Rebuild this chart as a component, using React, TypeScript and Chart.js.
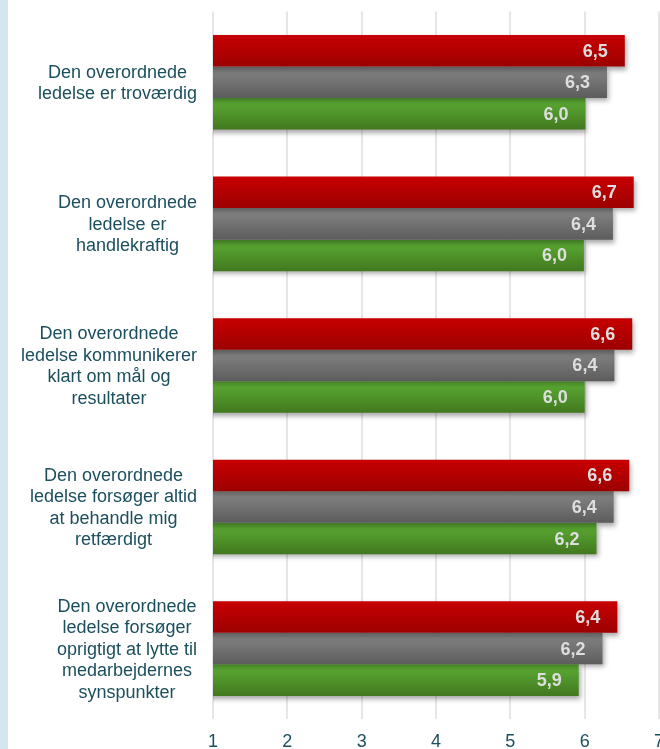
import React, { useEffect, useRef } from "react";
import { Chart, registerables } from "chart.js";

Chart.register(...registerables);

const categories: string[][] = [
  ["Den overordnede", "ledelse er troværdig"],
  ["Den overordnede", "ledelse er", "handlekraftig"],
  ["Den overordnede", "ledelse kommunikerer", "klart om mål og", "resultater"],
  ["Den overordnede", "ledelse forsøger altid", "at behandle mig", "retfærdigt"],
  ["Den overordnede", "ledelse forsøger", "oprigtigt at lytte til", "medarbejdernes", "synspunkter"],
];

const seriesA = [6.54, 6.66, 6.64, 6.6, 6.44];
const seriesB = [6.3, 6.38, 6.4, 6.39, 6.24];
const seriesC = [6.01, 5.99, 6.0, 6.16, 5.92];

const xTicks = [1, 2, 3, 4, 5, 6, 7];

const topColors = ["#c80000", "#878787", "#5cae34"];
const bottomColors = ["#9c0000", "#5c5c5c", "#42781f"];
const TEAL = "#1b4f5d";

const barStyle = {
  id: "barStyle",
  beforeDatasetsDraw(chart: any) {
    const ctx = chart.ctx;
    chart.data.datasets.forEach((_ds: any, i: number) => {
      const meta = chart.getDatasetMeta(i);
      meta.data.forEach((el: any) => {
        const top = el.y - el.height / 2;
        const bottom = el.y + el.height / 2;
        const g = ctx.createLinearGradient(0, top, 0, bottom);
        g.addColorStop(0, topColors[i]);
        g.addColorStop(1, bottomColors[i]);
        el.options = { ...el.options, backgroundColor: g };
      });
    });
  },
  beforeDatasetDraw(chart: any) {
    const ctx = chart.ctx;
    ctx.save();
    ctx.shadowColor = "rgba(0,0,0,0.35)";
    ctx.shadowBlur = 5;
    ctx.shadowOffsetX = 2;
    ctx.shadowOffsetY = 3;
  },
  afterDatasetDraw(chart: any) {
    chart.ctx.restore();
  },
  afterDatasetsDraw(chart: any) {
    const ctx = chart.ctx;
    ctx.save();
    ctx.font = "bold 18px 'Liberation Sans', Arial, sans-serif";
    ctx.fillStyle = "#dedede";
    ctx.textAlign = "right";
    ctx.textBaseline = "middle";
    chart.data.datasets.forEach((ds: any, i: number) => {
      const meta = chart.getDatasetMeta(i);
      meta.data.forEach((el: any, j: number) => {
        const v = ds.data[j] as number;
        const txt = v.toFixed(1).replace(".", ",");
        ctx.fillText(txt, el.x - 17, el.y + 1);
      });
    });
    ctx.restore();
  },
  afterDraw(chart: any) {
    const ctx = chart.ctx;
    const yScale = chart.scales.y;
    ctx.save();
    ctx.font = "18px 'Liberation Sans', Arial, sans-serif";
    ctx.fillStyle = TEAL;
    ctx.textAlign = "center";
    ctx.textBaseline = "middle";
    const rightEdge = 189;
    const lh = 21.5;
    categories.forEach((lines, i) => {
      const maxW = Math.max(...lines.map((l) => ctx.measureText(l).width));
      const cx = rightEdge - maxW / 2;
      const cy = yScale.getPixelForValue(i);
      lines.forEach((l, k) => {
        ctx.fillText(l, cx, cy + (k - (lines.length - 1) / 2) * lh + 1);
      });
    });
    ctx.restore();
  },
};

export default function App() {
  const ref = useRef<HTMLCanvasElement>(null);

  useEffect(() => {
    document.body.style.margin = "0";
    const canvas = ref.current!;
    const chart = new Chart(canvas, {
      type: "bar",
      data: {
        labels: categories.map((c) => c.join(" ")),
        datasets: [
          { label: "A", data: seriesA, backgroundColor: () => topColors[0], borderWidth: 0 },
          { label: "B", data: seriesB, backgroundColor: () => topColors[1], borderWidth: 0 },
          { label: "C", data: seriesC, backgroundColor: () => topColors[2], borderWidth: 0 },
        ],
      },
      options: {
        indexAxis: "y",
        responsive: false,
        animation: false,
        devicePixelRatio: 1,
        layout: { padding: { top: 11.5, right: 9, bottom: 7, left: 0 } },
        datasets: { bar: { categoryPercentage: 0.668, barPercentage: 1 } },
        plugins: { legend: { display: false }, tooltip: { enabled: false } },
        scales: {
          x: {
            type: "linear",
            min: xTicks[0],
            max: xTicks[xTicks.length - 1],
            afterBuildTicks: (scale: any) => {
              scale.ticks = xTicks.map((v) => ({ value: v }));
            },
            ticks: {
              color: TEAL,
              padding: 12,
              font: { size: 18, family: "'Liberation Sans', Arial, sans-serif" },
              callback: (v: any) => String(v),
            },
            grid: { color: "#e6e6e6", lineWidth: 2, drawTicks: false },
            border: { display: false },
          },
          y: {
            type: "category",
            ticks: { display: false },
            grid: { display: false, drawTicks: false },
            border: { display: false },
            afterFit: (scale: any) => {
              scale.width = 205;
            },
          },
        },
      },
      plugins: [barStyle],
    } as any);
    return () => chart.destroy();
  }, []);

  return (
    <div style={{ position: "relative", width: 660, height: 749, overflow: "hidden", background: "#fff" }}>
      <div style={{ position: "absolute", left: 0, top: 0, width: 8, height: 749, background: "#d6e6f0" }} />
      <div style={{ position: "absolute", left: 8, top: 0 }}>
        <canvas ref={ref} width={668} height={772} style={{ display: "block" }} />
      </div>
    </div>
  );
}
